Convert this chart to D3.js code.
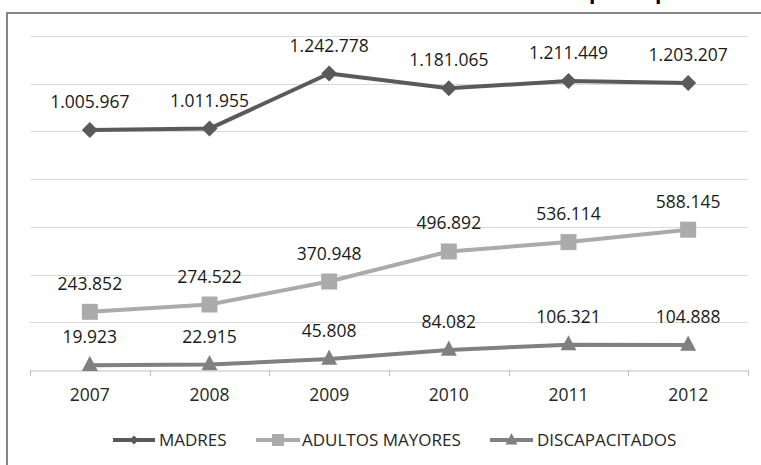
<!DOCTYPE html>
<html>
<head>
<meta charset="utf-8">
<script src="https://cdn.jsdelivr.net/npm/d3@7"></script>
<style>
  html, body { margin: 0; padding: 0; background: #fff; }
  svg { display: block; }
  text { font-family: "Open Sans", "Noto Sans", sans-serif; }
</style>
</head>
<body>
<svg id="chart" width="761" height="465"></svg>
<script>
const years = ["2007", "2008", "2009", "2010", "2011", "2012"];
const madres = [1005967, 1011955, 1242778, 1181065, 1211449, 1203207];
const adultosMayores = [243852, 274522, 370948, 496892, 536114, 588145];
const discapacitados = [19923, 22915, 45808, 84082, 106321, 104888];
const seriesNames = ["MADRES", "ADULTOS MAYORES", "DISCAPACITADOS"];
const yTicks = [0, 200000, 400000, 600000, 800000, 1000000, 1200000, 1400000];
const titleFragments = ["p", "p"];

const series = [
  { name: seriesNames[0], values: madres, color: "#5a5a5a", marker: "diamond" },
  { name: seriesNames[1], values: adultosMayores, color: "#ababab", marker: "square" },
  { name: seriesNames[2], values: discapacitados, color: "#808080", marker: "triangle" }
];

const svg = d3.select("#chart");
const W = 761, H = 465;
const plot = { left: 30, right: 748, top: 36, bottom: 370 };

const x = d3.scaleBand().domain(years).range([plot.left, plot.right]).padding(0);
const y = d3.scaleLinear().domain([0, 1400000]).range([plot.bottom, plot.top]);
const fmt = v => d3.format(",")(v).replace(/,/g, ".");

// cropped title (only descenders visible, as in the reference)
svg.selectAll("text.title").data(titleFragments).join("text")
  .attr("class", "title")
  .attr("x", (d, i) => [589, 655][i])
  .attr("y", -1)
  .attr("font-size", 21)
  .attr("font-weight", "bold")
  .attr("fill", "#000")
  .text(d => d);

// chart border (partially cropped)
svg.append("path")
  .attr("d", `M7,${H + 5} L7,13 L${W + 5},13`)
  .attr("fill", "none")
  .attr("stroke", "#868686")
  .attr("stroke-width", 2);

// gridlines
svg.append("g").selectAll("line").data(yTicks.slice(1)).join("line")
  .attr("x1", plot.left).attr("x2", plot.right)
  .attr("y1", d => Math.round(y(d)) + 0.5).attr("y2", d => Math.round(y(d)) + 0.5)
  .attr("stroke", "#d9d9d9").attr("stroke-width", 1);

// x axis
const xAxis = d3.axisBottom(x).tickSize(0).tickPadding(18);
const gx = svg.append("g").attr("transform", `translate(0,${plot.bottom + 0.5})`).call(xAxis);
gx.select(".domain").attr("stroke", "#bfbfbf");
gx.selectAll("text").attr("font-size", 17.5).attr("fill", "#262626")
  .attr("font-family", "'Open Sans', sans-serif");
const bounds = years.map(d => x(d)).concat([x(years[years.length - 1]) + x.bandwidth()]);
svg.append("g").selectAll("line").data(bounds).join("line")
  .attr("x1", d => Math.round(d) + 0.5).attr("x2", d => Math.round(d) + 0.5)
  .attr("y1", plot.bottom).attr("y2", plot.bottom + 6)
  .attr("stroke", "#bfbfbf").attr("stroke-width", 1);

const cx = d => x(d) + x.bandwidth() / 2;

function markerPath(type, r) {
  if (type === "diamond") return `M0,${-r}L${r},0L0,${r}L${-r},0Z`;
  if (type === "square") return `M${-r},${-r}H${r}V${r}H${-r}Z`;
  return `M0,${-r}L${r},${r * 0.9}L${-r},${r * 0.9}Z`;
}

const line = d3.line().x((d, i) => cx(years[i])).y(d => y(d));

series.forEach(s => {
  const g = svg.append("g");
  g.append("path").datum(s.values)
    .attr("d", line)
    .attr("fill", "none")
    .attr("stroke", s.color)
    .attr("stroke-width", 4)
    .attr("stroke-linejoin", "round");
  const r = 8;
  g.selectAll("path.m").data(s.values).join("path")
    .attr("class", "m")
    .attr("d", markerPath(s.marker, r))
    .attr("transform", (d, i) => `translate(${cx(years[i])},${y(d) + (s.marker === "triangle" ? -1.5 : 0)})`)
    .attr("fill", s.color);
  g.selectAll("text").data(s.values).join("text")
    .attr("x", (d, i) => cx(years[i]))
    .attr("y", d => y(d) - 22)
    .attr("text-anchor", "middle")
    .attr("font-size", 17.5)
    .attr("fill", "#1a1a1a")
    .text(d => fmt(d));
});

// legend
const legendY = 440;
const legendItems = [
  { x0: 113, x1: 155, tx: 159 },
  { x0: 256, x1: 300, tx: 302 },
  { x0: 490, x1: 533, tx: 537 }
];
series.forEach((s, i) => {
  const L = legendItems[i];
  const g = svg.append("g");
  g.append("line").attr("x1", L.x0).attr("x2", L.x1)
    .attr("y1", legendY).attr("y2", legendY)
    .attr("stroke", s.color).attr("stroke-width", 4);
  const r = s.marker === "diamond" ? 4.5 : 6;
  g.append("path").attr("d", markerPath(s.marker, r))
    .attr("transform", `translate(${(L.x0 + L.x1) / 2},${legendY + (s.marker === "triangle" ? -1 : 0)})`)
    .attr("fill", s.color);
  g.append("text").attr("x", L.tx).attr("y", legendY + 6)
    .attr("font-size", 17).attr("fill", "#262626")
    .text(s.name);
});
</script>
</body>
</html>
